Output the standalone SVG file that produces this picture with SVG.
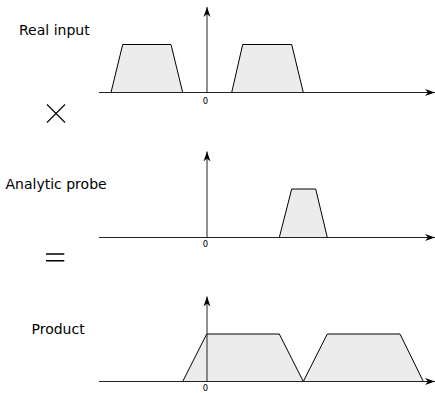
<svg xmlns="http://www.w3.org/2000/svg" width="435" height="393" viewBox="0 0 435 393">
<style>
.ax{stroke:#222;stroke-width:1;fill:none}
.tz{fill:#ececec;stroke:#000;stroke-width:1;stroke-linejoin:miter}
.lbl{font-family:"DejaVu Sans",sans-serif;font-size:14px;fill:#000}
.zero{font-family:"DejaVu Sans",sans-serif;font-size:8.5px;fill:#000;text-anchor:middle}
.op{stroke:#000;fill:none}
</style>
<defs>
<marker id="arr" markerUnits="userSpaceOnUse" markerWidth="14" markerHeight="10" viewBox="-11 -5 12 10" refX="0" refY="0" orient="auto">
<path d="M0,0 L-10,-3.5 L-7,0 L-10,3.5 Z" fill="#000"/>
</marker>
</defs>
<g id="panel-real-input">
<text class="lbl" x="19" y="34.5">Real input</text>
<polygon class="tz" points="111,92.5 122.7,44.5 171,44.5 182.7,92.5"/>
<polygon class="tz" points="231.7,92.5 242.7,44.5 291.7,44.5 303.3,92.5"/>
</g>
<g id="panel-probe">
<text class="lbl" x="5.5" y="189">Analytic probe</text>
<polygon class="tz" points="279.3,237.5 291.7,189 315.7,189 327.3,237.5"/>
</g>
<g id="panel-product">
<text class="lbl" x="31.5" y="334">Product</text>
<polygon class="tz" points="182.7,381.5 206.7,334 279.3,334 303.3,381.5 327.3,334 400,334 423.3,381.5"/>
</g>
<g id="operators">
<path class="op" stroke-width="1.1" d="M47,104.5 L65,122.5 M65,104.5 L47,122.5"/>
<path class="op" stroke-width="1.6" d="M46,254 H64.3 M46,260.7 H64.3"/>
</g>
<g id="connectors">
<line class="ax" x1="99" y1="92.5" x2="435" y2="92.5" marker-end="url(#arr)"/>
<line class="ax" x1="207" y1="92.5" x2="207" y2="7" marker-end="url(#arr)"/>
<line class="ax" x1="99" y1="237.5" x2="435" y2="237.5" marker-end="url(#arr)"/>
<line class="ax" x1="207" y1="237.5" x2="207" y2="151.5" marker-end="url(#arr)"/>
<line class="ax" x1="99" y1="381.5" x2="435" y2="381.5" marker-end="url(#arr)"/>
<line class="ax" x1="207" y1="381.5" x2="207" y2="296.5" marker-end="url(#arr)"/>
</g>
<g id="zero-labels">
<text class="zero" x="205.5" y="103.5">0</text>
<text class="zero" x="205.5" y="247">0</text>
<text class="zero" x="205.5" y="391">0</text>
</g>
</svg>
